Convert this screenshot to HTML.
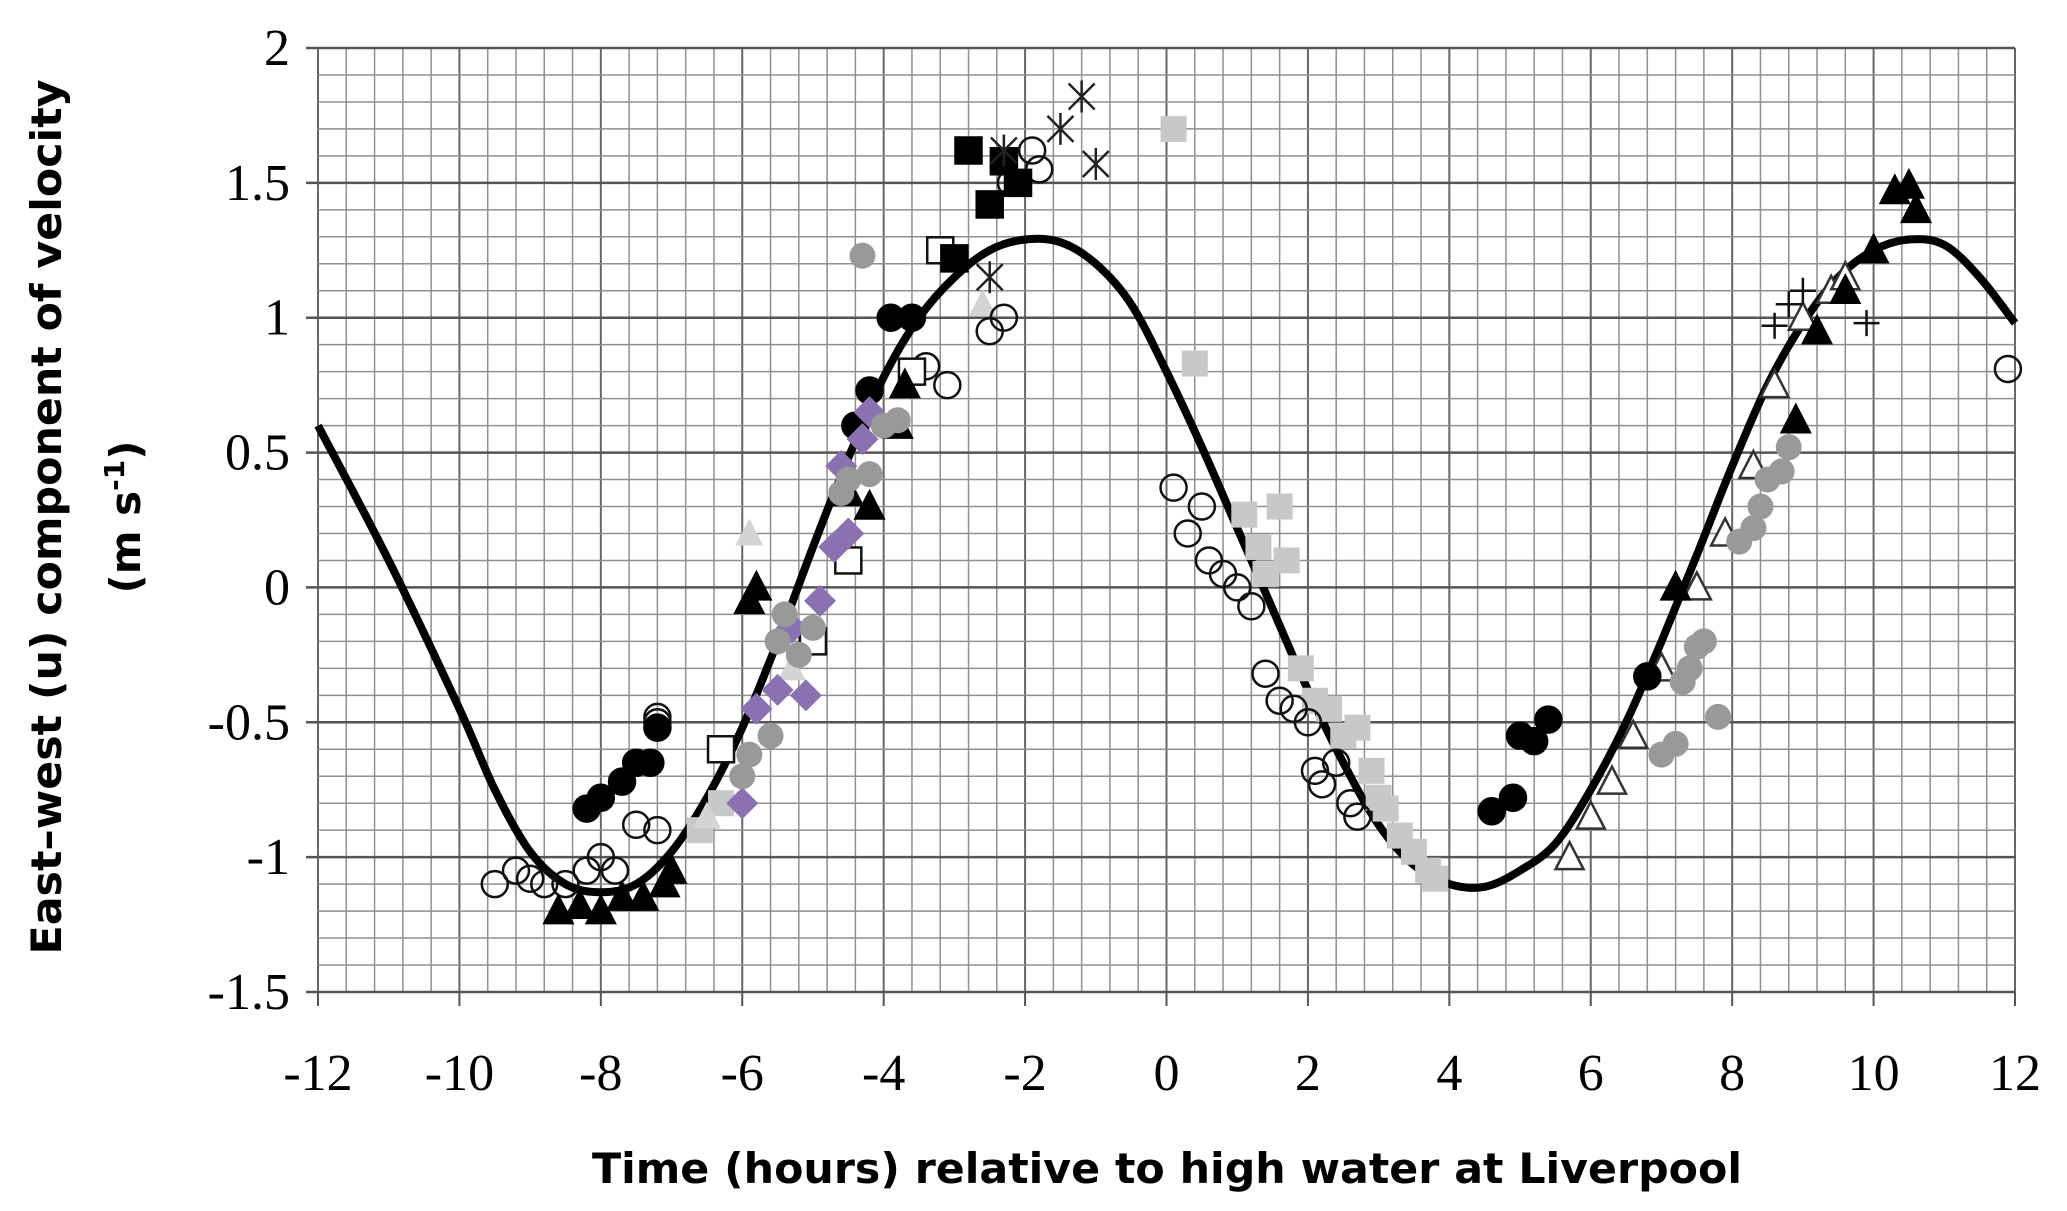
<!DOCTYPE html>
<html><head><meta charset="utf-8"><style>
html,body{margin:0;padding:0;background:#fff;}
svg{display:block;}
</style></head><body>
<svg id="chart" width="2067" height="1211" viewBox="0 0 2067 1211" xmlns="http://www.w3.org/2000/svg">
<g id="grid"></g>
<g id="curve"></g>
<g id="points"></g>
<g id="axes"></g>
<text x="1167" y="1183" text-anchor="middle" font-family="DejaVu Sans, Liberation Sans, sans-serif" font-weight="bold" font-size="42" textLength="1150" lengthAdjust="spacingAndGlyphs">Time (hours) relative to high water at Liverpool</text>
<text transform="translate(61,517) rotate(-90)" text-anchor="middle" font-family="DejaVu Sans, Liberation Sans, sans-serif" font-weight="bold" font-size="42" textLength="875" lengthAdjust="spacingAndGlyphs">East–west (u) component of velocity</text>
<text transform="translate(140,517) rotate(-90)" text-anchor="middle" font-family="DejaVu Sans, Liberation Sans, sans-serif" font-weight="bold" font-size="42">(m s<tspan font-size="28" dy="-16">-1</tspan><tspan dy="16">)</tspan></text>
</svg>
<script>
const xTicks=[-12,-10,-8,-6,-4,-2,0,2,4,6,8,10,12];
const yTicks=[2,1.5,1,0.5,0,-0.5,-1,-1.5];
const yTickLabels=["2","1.5","1","0.5","0","-0.5","-1","-1.5"];
const curveT=[-12,-11,-10,-9.5,-9,-8.5,-8,-7.5,-7,-6.5,-6,-5.5,-5,-4.5,-4,-3.5,-3,-2.5,-2,-1.5,-1,-0.5,0,0.5,1,1.5,2,2.5,3,3.5,4,4.5,5,5.5,6,6.5,7,7.5,8,8.5,9,9.5,10,10.5,11,11.5,12];
const curveU=[0.6,0.1,-0.45,-0.75,-0.98,-1.1,-1.13,-1.1,-0.98,-0.78,-0.52,-0.2,0.15,0.48,0.78,1.0,1.15,1.25,1.29,1.28,1.2,1.05,0.8,0.52,0.22,-0.08,-0.38,-0.65,-0.88,-1.03,-1.1,-1.11,-1.05,-0.95,-0.75,-0.5,-0.2,0.12,0.45,0.75,0.98,1.15,1.25,1.29,1.27,1.15,0.98];
const openCircleT=[-9.5,-9.2,-9,-8.8,-8.5,-8.2,-8,-7.8,-7.5,-7.2,-7.2,-7.2,-3.4,-3.1,-2.5,-2.3,-2.2,-1.8,-1.9,0.1,0.3,0.5,0.6,0.8,1,1.2,1.4,1.6,1.8,2,2.1,2.2,2.4,2.6,2.7,11.9];
const openCircleU=[-1.1,-1.05,-1.08,-1.1,-1.1,-1.05,-1.0,-1.05,-0.88,-0.9,-0.48,-0.5,0.82,0.75,0.95,1.0,1.5,1.55,1.62,0.37,0.2,0.3,0.1,0.05,0.0,-0.07,-0.32,-0.42,-0.45,-0.5,-0.68,-0.73,-0.65,-0.8,-0.85,0.81];
const blackCircleT=[-8.2,-8,-7.7,-7.5,-7.3,-7.2,-4.4,-4.2,-3.9,-3.6,4.6,4.9,5,5.2,5.4,6.8];
const blackCircleU=[-0.82,-0.78,-0.72,-0.65,-0.65,-0.52,0.6,0.73,1.0,1.0,-0.83,-0.78,-0.55,-0.57,-0.49,-0.33];
const blackTriT=[-8.6,-8.3,-8,-7.7,-7.4,-7.1,-7.0,-5.9,-5.8,-4.5,-4.2,-3.8,-3.7,8.9,9.2,9.6,10.0,10.3,10.5,10.6,7.2];
const blackTriU=[-1.2,-1.18,-1.2,-1.15,-1.15,-1.1,-1.05,-0.05,0.0,0.35,0.3,0.6,0.75,0.62,0.95,1.1,1.25,1.47,1.49,1.4,0.0];
const openTriT=[5.7,6.0,6.3,6.6,7,7.5,7.9,8.3,8.6,9,9.4,9.6];
const openTriU=[-1.0,-0.85,-0.72,-0.55,-0.3,0,0.2,0.45,0.75,1.0,1.1,1.15];
const greyCircleT=[-4.3,-4.5,-4.2,-4,-3.8,-4.6,-5.5,-5.4,-5.2,-5.0,-5.6,-5.9,-6,7.0,7.2,7.3,7.4,7.5,7.6,7.8,8.1,8.3,8.4,8.5,8.7,8.8];
const greyCircleU=[1.23,0.4,0.42,0.6,0.62,0.35,-0.2,-0.1,-0.25,-0.15,-0.55,-0.62,-0.7,-0.62,-0.58,-0.35,-0.3,-0.22,-0.2,-0.48,0.17,0.22,0.3,0.4,0.43,0.52];
const lightSquareT=[0.1,0.4,1.1,1.3,1.4,1.6,1.7,1.9,2.1,2.3,2.5,2.7,2.9,3.0,3.1,3.3,3.5,3.7,3.8,-6.6,-6.3];
const lightSquareU=[1.7,0.83,0.27,0.15,0.05,0.3,0.1,-0.3,-0.42,-0.45,-0.55,-0.52,-0.68,-0.78,-0.82,-0.92,-0.98,-1.05,-1.08,-0.9,-0.8];
const purpleT=[-6,-5.8,-5.5,-5.3,-5.1,-4.9,-4.7,-4.5,-4.3,-4.2,-4.6];
const purpleU=[-0.8,-0.45,-0.38,-0.15,-0.4,-0.05,0.15,0.2,0.55,0.65,0.45];
const blackSquareT=[-2.8,-2.5,-2.3,-2.1,-3];
const blackSquareU=[1.62,1.42,1.58,1.5,1.22];
const openSquareT=[-3.2,-3.6,-4.5,-5.0,-6.3];
const openSquareU=[1.25,0.8,0.1,-0.2,-0.6];
const lightTriT=[-5.9,-2.6,-6.5,-5.3];
const lightTriU=[0.2,1.05,-0.85,-0.3];
const starT=[-1.2,-1.0,-2.3,-2.5,-1.5];
const starU=[1.82,1.57,1.62,1.15,1.7];
const plusT=[8.6,8.8,9.0,9.9];
const plusU=[0.97,1.05,1.1,0.98];

const NS="http://www.w3.org/2000/svg";
const L=318,R=2015,T=48,B=992;
function X(t){return L+(t+12)*(R-L)/24;}
function Y(u){return T+(2-u)*(B-T)/3.5;}
function mk(tag,attrs,parent){const e=document.createElementNS(NS,tag);for(const k in attrs)e.setAttribute(k,attrs[k]);parent.appendChild(e);return e;}
const grid=document.getElementById('grid');
for(let i=0;i<=60;i++){const t=-12+i*0.4;const major=(i%5===0);
 const l=mk('line',{x1:X(t),x2:X(t),y1:T,y2:B,stroke:major?'#666':'#8f8f8f','stroke-width':major?2:1.5},grid);
 
 }
for(let i=0;i<=35;i++){const u=2-i*0.1;const major=(i%5===0);
 const l=mk('line',{x1:major?X(-12)-12:X(-12),x2:X(12),y1:Y(u),y2:Y(u),stroke:major?'#555':'#8f8f8f','stroke-width':major?2.5:1.5},grid);
 
 }
const axes=document.getElementById('axes');
xTicks.forEach(t=>{
 const tk=mk('line',{x1:X(t),x2:X(t),y1:B,y2:B+14,stroke:'#555','stroke-width':2},axes);
 
 
 const tx=mk('text',{x:X(t),y:1090,'text-anchor':'middle','font-family':'Liberation Serif, serif','font-size':52},axes);
 tx.textContent=String(t);
 
 });
yTicks.forEach((u,i)=>{
 const tx=mk('text',{x:290,y:Y(u)+17,'text-anchor':'end','font-family':'Liberation Serif, serif','font-size':52},axes);
 tx.textContent=yTickLabels[i];
 
 });
const cg=document.getElementById('curve');
const P=curveT.map((t,i)=>[X(t),Y(curveU[i])]);
let d='M'+P[0][0].toFixed(1)+' '+P[0][1].toFixed(1);
for(let i=0;i<P.length-1;i++){const p0=P[Math.max(0,i-1)],p1=P[i],p2=P[i+1],p3=P[Math.min(P.length-1,i+2)];
 const c1=[p1[0]+(p2[0]-p0[0])/6,p1[1]+(p2[1]-p0[1])/6],c2=[p2[0]-(p3[0]-p1[0])/6,p2[1]-(p3[1]-p1[1])/6];
 d+=` C${c1[0].toFixed(1)} ${c1[1].toFixed(1)} ${c2[0].toFixed(1)} ${c2[1].toFixed(1)} ${p2[0].toFixed(1)} ${p2[1].toFixed(1)}`;}
const p=mk('path',{d:d,fill:'none',stroke:'#000','stroke-width':8,'stroke-linejoin':'round'},cg);


const pg=document.getElementById('points');
const r=13;
function series(ts,us,name,draw){ts.forEach((t,i)=>{const e=draw(X(t),Y(us[i]));
 
 });}
const circ=(fill,stroke)=>(x,y)=>mk('circle',{cx:x,cy:y,r:r,fill:fill,stroke:stroke,'stroke-width':2.5},pg);
const sq=(fill,stroke)=>(x,y)=>mk('rect',{x:x-r,y:y-r,width:2*r,height:2*r,fill:fill,stroke:stroke,'stroke-width':2.5},pg);
const tri=(fill,stroke)=>(x,y)=>mk('polygon',{points:`${x},${y-r-2} ${x-r-1},${y+r-1} ${x+r+1},${y+r-1}`,fill:fill,stroke:stroke,'stroke-width':2.5},pg);
const dia=(x,y)=>mk('polygon',{points:`${x},${y-r-3} ${x+r+3},${y} ${x},${y+r+3} ${x-r-3},${y}`,fill:'#8a72b0',stroke:'none'},pg);
const star=(x,y)=>mk('path',{d:`M${x-r} ${y-r}L${x+r} ${y+r}M${x-r} ${y+r}L${x+r} ${y-r}M${x} ${y-r-3}L${x} ${y+r+3}`,stroke:'#222','stroke-width':2.5,fill:'none'},pg);
const plus=(x,y)=>mk('path',{d:`M${x-r} ${y}L${x+r} ${y}M${x} ${y-r}L${x} ${y+r}`,stroke:'#111','stroke-width':2.5,fill:'none'},pg);
series(lightSquareT,lightSquareU,'light-grey-square',sq('#c8c8c8','none'));
series(lightTriT,lightTriU,'light-grey-triangle',tri('#d4d4d4','none'));
series(openTriT,openTriU,'open-triangle',tri('#fff','#333'));
series(openCircleT,openCircleU,'open-circle',circ('none','#111'));
series(openSquareT,openSquareU,'open-square',sq('#fff','#111'));
series(blackTriT,blackTriU,'black-triangle',tri('#000','#000'));
series(blackCircleT,blackCircleU,'black-circle',circ('#000','#000'));
series(purpleT,purpleU,'purple-diamond',dia);
series(greyCircleT,greyCircleU,'grey-circle',circ('#999','none'));
series(blackSquareT,blackSquareU,'black-square',sq('#000','#000'));
series(starT,starU,'asterisk-marker',star);
series(plusT,plusU,'plus-marker',plus);
</script>
</body></html>
